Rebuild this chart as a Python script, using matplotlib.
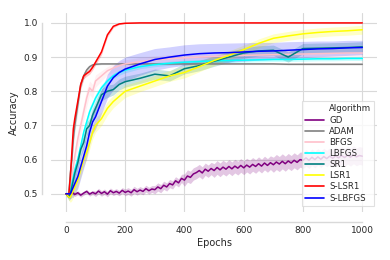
import numpy as np
import matplotlib
matplotlib.use("Agg")
import matplotlib.pyplot as plt
import seaborn as sns
from matplotlib.lines import Line2D

sns.set_theme(style="whitegrid")
plt.rcParams['font.family'] = ['DejaVu Sans']

# ---------------- data ----------------
EPOCHS = [0, 10, 15, 20, 25, 30, 40, 50, 60, 70, 80, 90, 100, 120, 140, 160, 180, 200,
          250, 300, 350, 400, 450, 500, 550, 600, 650, 700, 750, 800, 850, 900, 950, 1000]

ADAM = [0.5, 0.5, 0.56, 0.6, 0.66, 0.7, 0.76, 0.82, 0.845, 0.862, 0.872, 0.877, 0.879, 0.88, 0.88, 0.88, 0.88, 0.88,
        0.88, 0.88, 0.88, 0.88, 0.88, 0.88, 0.88, 0.88, 0.88, 0.88, 0.879, 0.879, 0.879, 0.879, 0.879, 0.879]
ADAM_BAND = [0.0, 0.01, 0.02, 0.02, 0.02, 0.02, 0.02, 0.015, 0.01, 0.008, 0.005, 0.004, 0.003, 0.002, 0.002, 0.002, 0.002, 0.002,
             0.002, 0.002, 0.002, 0.002, 0.002, 0.002, 0.002, 0.002, 0.002, 0.002, 0.002, 0.002, 0.002, 0.002, 0.002, 0.002]

BFGS = [0.5, 0.5, 0.52, 0.55, 0.58, 0.61, 0.66, 0.7, 0.74, 0.78, 0.81, 0.8, 0.83, 0.845, 0.86, 0.868, 0.875, 0.88,
        0.887, 0.892, 0.895, 0.898, 0.9, 0.902, 0.904, 0.905, 0.906, 0.907, 0.908, 0.909, 0.91, 0.911, 0.912, 0.912]
BFGS_BAND = [0.0, 0.01, 0.015, 0.02, 0.02, 0.02, 0.025, 0.025, 0.025, 0.025, 0.02, 0.02, 0.018, 0.015, 0.012, 0.012, 0.012, 0.012,
             0.012, 0.012, 0.012, 0.012, 0.012, 0.012, 0.012, 0.012, 0.012, 0.012, 0.012, 0.012, 0.012, 0.012, 0.012, 0.012]

LBFGS = [0.5, 0.5, 0.51, 0.53, 0.55, 0.57, 0.6, 0.64, 0.68, 0.71, 0.74, 0.76, 0.78, 0.81, 0.83, 0.845, 0.855, 0.862,
         0.872, 0.878, 0.882, 0.885, 0.887, 0.889, 0.89, 0.891, 0.892, 0.893, 0.893, 0.894, 0.895, 0.895, 0.896, 0.896]
LBFGS_BAND = [0.0, 0.01, 0.015, 0.015, 0.015, 0.015, 0.015, 0.015, 0.015, 0.015, 0.015, 0.012, 0.012, 0.01, 0.008, 0.008, 0.008, 0.008,
              0.006, 0.006, 0.006, 0.006, 0.006, 0.006, 0.006, 0.006, 0.006, 0.006, 0.006, 0.006, 0.006, 0.006, 0.006, 0.006]

SR1 = [0.5, 0.49, 0.5, 0.52, 0.54, 0.56, 0.59, 0.63, 0.65, 0.69, 0.7, 0.73, 0.75, 0.79, 0.8, 0.805, 0.82, 0.828,
       0.838, 0.85, 0.845, 0.866, 0.875, 0.888, 0.9, 0.912, 0.918, 0.92, 0.9, 0.925, 0.926, 0.927, 0.928, 0.93]
SR1_BAND = [0.0, 0.01, 0.015, 0.02, 0.02, 0.02, 0.02, 0.02, 0.02, 0.02, 0.02, 0.02, 0.02, 0.018, 0.018, 0.016, 0.016, 0.016,
            0.015, 0.015, 0.015, 0.015, 0.015, 0.015, 0.015, 0.015, 0.015, 0.015, 0.015, 0.015, 0.015, 0.015, 0.015, 0.015]

LSR1 = [0.5, 0.49, 0.49, 0.5, 0.51, 0.52, 0.54, 0.57, 0.6, 0.62, 0.65, 0.68, 0.7, 0.72, 0.75, 0.77, 0.785, 0.8,
        0.815, 0.83, 0.845, 0.855, 0.872, 0.89, 0.905, 0.922, 0.94, 0.955, 0.962, 0.968, 0.972, 0.975, 0.977, 0.98]
LSR1_BAND = [0.0, 0.01, 0.015, 0.02, 0.02, 0.02, 0.02, 0.02, 0.02, 0.02, 0.02, 0.02, 0.02, 0.02, 0.02, 0.018, 0.018, 0.018,
             0.016, 0.016, 0.016, 0.016, 0.015, 0.014, 0.013, 0.013, 0.013, 0.013, 0.013, 0.013, 0.013, 0.013, 0.013, 0.013]

SLSR1 = [0.5, 0.5, 0.55, 0.62, 0.69, 0.72, 0.77, 0.82, 0.845, 0.852, 0.858, 0.87, 0.885, 0.915, 0.965, 0.99, 0.997, 0.999,
         1.0, 1.0, 1.0, 1.0, 1.0, 1.0, 1.0, 1.0, 1.0, 1.0, 1.0, 1.0, 1.0, 1.0, 1.0, 1.0]
SLSR1_BAND = [0.0, 0.005, 0.01, 0.01, 0.01, 0.01, 0.01, 0.01, 0.008, 0.008, 0.008, 0.008, 0.008, 0.008, 0.006, 0.004, 0.002, 0.001,
              0.0, 0.0, 0.0, 0.0, 0.0, 0.0, 0.0, 0.0, 0.0, 0.0, 0.0, 0.0, 0.0, 0.0, 0.0, 0.0]

SLBFGS = [0.5, 0.5, 0.5, 0.51, 0.52, 0.53, 0.55, 0.58, 0.61, 0.64, 0.68, 0.71, 0.725, 0.77, 0.815, 0.84, 0.855, 0.865,
          0.88, 0.893, 0.9, 0.906, 0.91, 0.912, 0.913, 0.915, 0.917, 0.918, 0.92, 0.922, 0.924, 0.925, 0.927, 0.928]
SLBFGS_BAND = [0.0, 0.01, 0.015, 0.02, 0.03, 0.03, 0.035, 0.035, 0.035, 0.035, 0.035, 0.035, 0.035, 0.035, 0.035, 0.035, 0.035, 0.035,
               0.033, 0.032, 0.03, 0.03, 0.029, 0.028, 0.028, 0.027, 0.026, 0.025, 0.025, 0.024, 0.023, 0.022, 0.022, 0.021]

GD_EPOCHS = list(range(0, 1001, 10))
GD = [0.50, 0.492, 0.505, 0.498, 0.503, 0.496, 0.502, 0.507, 0.499, 0.504,
      0.500, 0.508, 0.501, 0.506, 0.499, 0.509, 0.503, 0.507, 0.502, 0.510,
      0.504, 0.508, 0.503, 0.512, 0.506, 0.511, 0.507, 0.515, 0.509, 0.514,
      0.512, 0.520, 0.515, 0.525, 0.520, 0.530, 0.526, 0.538, 0.532, 0.545,
      0.540, 0.552, 0.548, 0.558, 0.562, 0.568, 0.561, 0.572, 0.566, 0.574,
      0.568, 0.577, 0.570, 0.578, 0.572, 0.580, 0.573, 0.581, 0.575, 0.583,
      0.576, 0.584, 0.578, 0.586, 0.580, 0.588, 0.581, 0.590, 0.583, 0.591,
      0.585, 0.593, 0.587, 0.595, 0.588, 0.596, 0.590, 0.598, 0.592, 0.600,
      0.598, 0.605, 0.598, 0.607, 0.600, 0.608, 0.601, 0.609, 0.603, 0.610,
      0.604, 0.611, 0.605, 0.612, 0.606, 0.613, 0.607, 0.614, 0.608, 0.612,
      0.610]
GD_BAND_STEPS = [0.006, 0.008, 0.01, 0.012, 0.018, 0.02, 0.02, 0.022, 0.024, 0.026, 0.026]

ALGORITHMS = ["GD", "ADAM", "BFGS", "LBFGS", "SR1", "LSR1", "S-LSR1", "S-LBFGS"]
COLORS = ["purple", "grey", "pink", "cyan", "teal", "yellow", "red", "blue"]
BAND_ALPHA = [0.22, 0.22, 0.22, 0.22, 0.22, 0.22, 0.22, 0.18]

# ---------------- figure ----------------
fig = plt.figure(figsize=(3.9, 2.6), dpi=100)
ax = fig.add_axes([0.131, 0.185, 0.836, 0.765])

gd_band = np.repeat(GD_BAND_STEPS, 10)[:len(GD)]
series = [
    (GD_EPOCHS, GD, gd_band),
    (EPOCHS, ADAM, ADAM_BAND),
    (EPOCHS, BFGS, BFGS_BAND),
    (EPOCHS, LBFGS, LBFGS_BAND),
    (EPOCHS, SR1, SR1_BAND),
    (EPOCHS, LSR1, LSR1_BAND),
    (EPOCHS, SLSR1, SLSR1_BAND),
    (EPOCHS, SLBFGS, SLBFGS_BAND),
]
for (x, y, b), name, c, a in zip(series, ALGORITHMS, COLORS, BAND_ALPHA):
    x = np.asarray(x); y = np.asarray(y); b = np.asarray(b)
    ax.fill_between(x, y - b, y + b, color=c, alpha=a, linewidth=0)
    ax.plot(x, y, color=c, lw=1.1, label=name)

ax.set_xlim(-50, 1050)
ax.set_ylim(0.447, 1.029)
ax.set_xticks([0, 200, 400, 600, 800, 1000])
ax.set_yticks([0.5, 0.6, 0.7, 0.8, 0.9, 1.0])
ax.tick_params(labelsize=6.5, colors='.15', length=0, pad=3)
ax.set_xlabel("Epochs", fontsize=7, labelpad=2, color='.15')
ax.set_ylabel("Accuracy", fontsize=7, labelpad=3, color='.15')
ax.grid(True, color='.85', lw=0.8)

for side in ['top', 'right']:
    ax.spines[side].set_visible(False)
ax.spines['left'].set_position(('outward', 6.5))
ax.spines['bottom'].set_position(('outward', 7))
ax.spines['left'].set_bounds(0.5, 1.0)
ax.spines['bottom'].set_bounds(0, 1000)
for side in ['left', 'bottom']:
    ax.spines[side].set_color('.85')
    ax.spines[side].set_linewidth(1.0)

handles = [Line2D([], [], color='none')] + [Line2D([], [], color=c, lw=1.2) for c in COLORS]
labels = ["Algorithm"] + ALGORITHMS
leg = ax.legend(handles, labels, loc='lower right', fontsize=6.2, frameon=True,
                handlelength=2.2, handletextpad=0.6, borderpad=0.35, labelspacing=0.25,
                bbox_to_anchor=(1.005, 0.01), fancybox=False)
leg.get_frame().set_edgecolor('.85')
leg.get_frame().set_linewidth(0.8)

fig.savefig("out.png", dpi=100)
